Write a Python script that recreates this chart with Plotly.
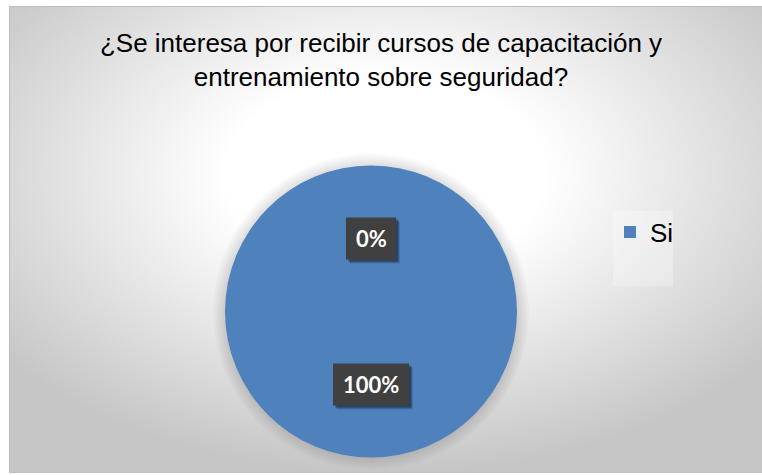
import base64
import math
import plotly.graph_objects as go

# Survey answers and their shares (percent)
categories = ["Si", ""]
values = [100, 0]
title_lines = ["¿Se interesa por recibir cursos de capacitación y", "entrenamiento sobre seguridad?"]

W, H = 762, 475
PIE_BLUE = "#4F81BD"

# Pie geometry in pixels
cx_px, cy_px, r_px = 371, 311.5, 146


def px_x(x):
    return x / W


def px_y(y):
    return 1 - y / H


# Radial gradient backdrop of the chart area
svg = (
    '<svg xmlns="http://www.w3.org/2000/svg" width="753" height="467" preserveAspectRatio="none">'
    '<defs><radialGradient id="g" cx="0.5" cy="0.36" r="0.64">'
    '<stop offset="0" stop-color="#ffffff"/>'
    '<stop offset="0.33" stop-color="#ffffff"/>'
    '<stop offset="1" stop-color="#c6c6c6"/>'
    '</radialGradient></defs>'
    '<rect width="100%" height="100%" fill="url(#g)"/></svg>'
)
bg_src = "data:image/svg+xml;base64," + base64.b64encode(svg.encode()).decode()

shown = [(c, v) for c, v in zip(categories, values) if v > 0]

fig = go.Figure(
    go.Pie(
        labels=[c for c, _ in shown],
        values=[v for _, v in shown],
        marker=dict(colors=[PIE_BLUE], line=dict(width=0)),
        textinfo="none",
        sort=False,
        direction="clockwise",
        rotation=0,
        hoverinfo="skip",
        domain=dict(
            x=[px_x(cx_px - r_px), px_x(cx_px + r_px)],
            y=[px_y(cy_px + r_px), px_y(cy_px - r_px)],
        ),
    )
)

shapes = []
# chart-area border
shapes.append(dict(type="rect", xref="paper", yref="paper",
                   x0=px_x(9.5), x1=1.01, y0=px_y(472.5), y1=px_y(6.5),
                   line=dict(color="#bdbdbd", width=1), fillcolor="rgba(0,0,0,0)", layer="below"))
# soft halo around the pie
for k in range(2, 13, 2):
    shapes.append(dict(type="circle", xref="paper", yref="paper",
                       xsizemode="pixel", ysizemode="pixel",
                       xanchor=px_x(cx_px), yanchor=px_y(cy_px),
                       x0=-r_px - k, x1=r_px + k, y0=-r_px - k, y1=r_px + k,
                       fillcolor="rgba(0,0,0,0.02)", line=dict(width=0), layer="below"))
# lighter legend panel
shapes.append(dict(type="rect", xref="paper", yref="paper",
                   x0=px_x(613), x1=px_x(673), y0=px_y(286), y1=px_y(211),
                   fillcolor="rgba(255,255,255,0.28)", line=dict(width=0), layer="below"))

annotations = []
total = sum(values)
cum = 0
for c, v in zip(categories, values):
    theta = 2 * math.pi * (cum + v / 2) / total
    cum += v
    lx = cx_px + 0.5 * r_px * math.sin(theta)
    ly = cy_px - 0.5 * r_px * math.cos(theta)
    text = f"{v:.0f}%"
    bw = 13 * len(text) + 24
    bh = 42
    # drop shadow then dark label box
    for off, alpha in ((4, 0.12), (3, 0.2), (2, 0.25)):
        shapes.append(dict(type="rect", xref="paper", yref="paper",
                           xsizemode="pixel", ysizemode="pixel",
                           xanchor=px_x(lx), yanchor=px_y(ly),
                           x0=-bw / 2 + off, x1=bw / 2 + off, y0=-bh / 2 - off, y1=bh / 2 - off,
                           fillcolor=f"rgba(0,0,0,{alpha})", line=dict(width=0), layer="above"))
    shapes.append(dict(type="rect", xref="paper", yref="paper",
                       xsizemode="pixel", ysizemode="pixel",
                       xanchor=px_x(lx), yanchor=px_y(ly),
                       x0=-bw / 2, x1=bw / 2, y0=-bh / 2, y1=bh / 2,
                       fillcolor="#404040", line=dict(width=0), layer="above"))
    annotations.append(dict(x=px_x(lx), y=px_y(ly), xref="paper", yref="paper",
                            text=f"<b>{text}</b>", showarrow=False,
                            xanchor="center", yanchor="middle",
                            font=dict(family="Lato", size=22, color="#ffffff")))

fig.update_layout(
    width=W, height=H,
    margin=dict(l=0, r=0, t=0, b=0),
    paper_bgcolor="#ffffff",
    plot_bgcolor="rgba(0,0,0,0)",
    images=[dict(source=bg_src, xref="paper", yref="paper",
                 x=px_x(9), y=px_y(6), sizex=1 - px_x(9), sizey=px_y(6) - px_y(473),
                 xanchor="left", yanchor="top", sizing="stretch", layer="below")],
    title=dict(text="<br>".join(title_lines), x=0.5, xanchor="center",
               y=px_y(52), yanchor="top",
               font=dict(family="Liberation Sans", size=26, color="#000000")),
    showlegend=True,
    legend=dict(x=px_x(610), xanchor="left", y=px_y(232), yanchor="middle",
                bgcolor="rgba(0,0,0,0)",
                font=dict(family="Liberation Sans", size=26, color="#000000")),
    shapes=shapes,
    annotations=annotations,
)

fig.write_html("out.html")
